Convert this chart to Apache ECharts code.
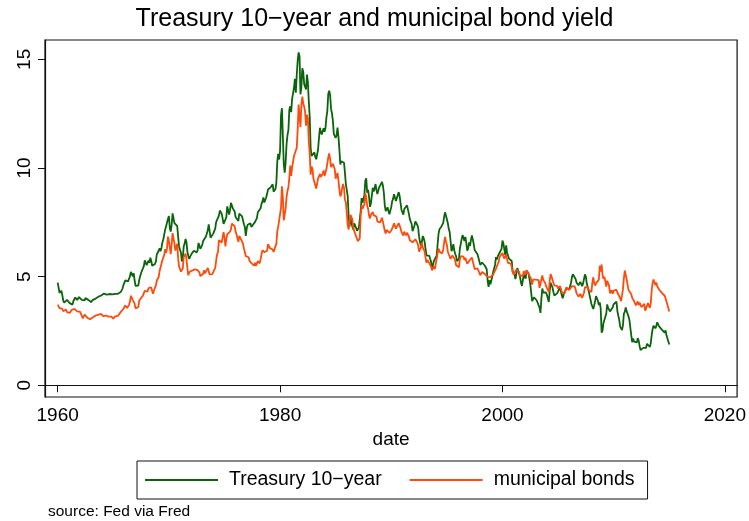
<!DOCTYPE html>
<html>
<head>
<meta charset="utf-8">
<script src="https://cdn.jsdelivr.net/npm/echarts@6/dist/echarts.min.js"></script>
<style>
  html, body { margin: 0; padding: 0; background: #fff; }
  #chart { width: 749px; height: 521px; }
</style>
</head>
<body>
<div id="chart"></div>
<script>
// monthly series, first value is Jan 1960, last is Jan 2015
const startYear = 1960;

// 10-year Treasury constant maturity, %
const treasury = [
  4.72, 4.49, 4.25, 4.28, 4.35, 4.15, 3.90, 3.80, 3.80, 3.89, 3.93, 3.84, // 1960
  3.84, 3.78, 3.74, 3.78, 3.71, 3.88, 3.92, 4.04, 3.98, 3.92, 3.94, 4.06,
  4.08, 4.04, 3.93, 3.84, 3.87, 3.91, 4.01, 3.98, 3.98, 3.93, 3.92, 3.86,
  3.83, 3.92, 3.93, 3.97, 3.93, 3.99, 4.02, 4.00, 4.08, 4.11, 4.12, 4.13,
  4.17, 4.15, 4.22, 4.23, 4.20, 4.17, 4.19, 4.19, 4.20, 4.19, 4.15, 4.18,
  4.19, 4.21, 4.21, 4.20, 4.21, 4.21, 4.20, 4.25, 4.29, 4.35, 4.45, 4.62, // 1965
  4.61, 4.83, 4.87, 4.75, 4.78, 4.81, 5.02, 5.22, 5.18, 5.01, 5.16, 4.84,
  4.58, 4.63, 4.54, 4.59, 4.85, 5.02, 5.16, 5.28, 5.30, 5.48, 5.75, 5.70,
  5.53, 5.56, 5.74, 5.64, 5.87, 5.72, 5.50, 5.42, 5.46, 5.58, 5.70, 6.03,
  6.04, 6.19, 6.30, 6.17, 6.32, 6.57, 6.72, 6.69, 7.16, 7.10, 7.14, 7.65,
  7.79, 7.24, 7.07, 7.39, 7.91, 7.84, 7.46, 7.53, 7.39, 7.33, 6.84, 6.39, // 1970
  6.24, 6.11, 5.70, 5.83, 6.39, 6.52, 6.73, 6.58, 6.14, 5.93, 5.81, 5.93,
  5.95, 6.08, 6.07, 6.19, 6.13, 6.11, 6.11, 6.21, 6.55, 6.48, 6.28, 6.36,
  6.46, 6.64, 6.71, 6.67, 6.85, 6.90, 7.13, 7.40, 7.09, 6.79, 6.73, 6.74,
  6.99, 6.96, 7.21, 7.51, 7.58, 7.54, 7.81, 8.04, 8.04, 7.90, 7.68, 7.43,
  7.50, 7.39, 7.73, 8.23, 8.06, 7.86, 8.06, 8.40, 8.43, 8.14, 8.05, 8.00, // 1975
  7.74, 7.79, 7.73, 7.56, 7.90, 7.86, 7.83, 7.77, 7.59, 7.41, 7.29, 6.87,
  7.21, 7.39, 7.46, 7.37, 7.46, 7.28, 7.33, 7.40, 7.34, 7.52, 7.58, 7.69,
  7.96, 8.03, 8.04, 8.15, 8.35, 8.46, 8.64, 8.41, 8.42, 8.64, 8.81, 9.01,
  9.10, 9.10, 9.12, 9.18, 9.25, 8.91, 8.95, 9.03, 9.33, 10.30, 10.65, 10.39,
  10.80, 12.41, 12.75, 11.47, 10.18, 9.78, 10.25, 11.10, 11.51, 11.75, 12.68, 12.84, // 1980
  12.57, 13.19, 13.12, 13.68, 14.10, 13.47, 14.28, 14.94, 15.32, 15.15, 13.39, 13.72,
  14.59, 14.43, 13.86, 13.87, 13.62, 14.30, 13.95, 13.06, 12.34, 10.91, 10.55, 10.54,
  10.46, 10.72, 10.51, 10.40, 10.38, 10.85, 11.38, 11.85, 11.65, 11.54, 11.69, 11.83,
  11.67, 11.84, 12.32, 12.63, 13.41, 13.56, 13.36, 12.72, 12.52, 12.16, 11.57, 11.50,
  11.38, 11.51, 11.86, 11.43, 10.85, 10.16, 10.31, 10.33, 10.37, 10.24, 9.78, 9.26, // 1985
  9.19, 8.70, 7.78, 7.30, 7.71, 7.80, 7.30, 7.17, 7.45, 7.43, 7.25, 7.11,
  7.08, 7.25, 7.25, 8.02, 8.61, 8.40, 8.45, 8.76, 9.42, 9.52, 8.86, 8.99,
  8.67, 8.21, 8.37, 8.72, 9.09, 8.92, 9.06, 9.26, 8.98, 8.80, 8.96, 9.11,
  9.09, 9.17, 9.36, 9.18, 8.86, 8.28, 8.02, 8.11, 8.19, 8.01, 7.87, 7.84,
  8.21, 8.47, 8.59, 8.79, 8.76, 8.48, 8.47, 8.75, 8.89, 8.72, 8.39, 8.08, // 1990
  8.09, 7.85, 8.11, 8.04, 8.07, 8.28, 8.27, 7.90, 7.65, 7.53, 7.42, 7.09,
  7.03, 7.34, 7.54, 7.48, 7.39, 7.26, 6.84, 6.59, 6.42, 6.59, 6.87, 6.77,
  6.60, 6.26, 5.98, 5.97, 6.04, 5.96, 5.81, 5.68, 5.36, 5.33, 5.72, 5.77,
  5.75, 5.97, 6.48, 6.97, 7.18, 7.10, 7.30, 7.24, 7.46, 7.74, 7.96, 7.81,
  7.78, 7.47, 7.20, 7.06, 6.63, 6.17, 6.28, 6.49, 6.20, 6.04, 5.93, 5.71, // 1995
  5.65, 5.81, 6.27, 6.51, 6.74, 6.91, 6.87, 6.64, 6.83, 6.53, 6.20, 6.30,
  6.58, 6.42, 6.69, 6.89, 6.71, 6.49, 6.22, 6.30, 6.21, 6.03, 5.88, 5.81,
  5.54, 5.57, 5.65, 5.64, 5.65, 5.50, 5.46, 5.34, 4.81, 4.53, 4.83, 4.65,
  4.72, 5.00, 5.23, 5.18, 5.54, 5.90, 5.79, 5.94, 5.92, 6.11, 6.03, 6.28,
  6.66, 6.52, 6.26, 5.99, 6.44, 6.10, 6.05, 5.83, 5.80, 5.74, 5.72, 5.24, // 2000
  5.16, 5.10, 4.89, 5.14, 5.39, 5.28, 5.24, 4.97, 4.73, 4.57, 4.65, 5.09,
  5.04, 4.91, 5.28, 5.21, 5.16, 4.93, 4.65, 4.26, 3.87, 3.94, 4.05, 4.03,
  4.05, 3.90, 3.81, 3.96, 3.57, 3.33, 3.98, 4.45, 4.27, 4.29, 4.30, 4.27,
  4.15, 4.08, 3.83, 4.35, 4.72, 4.73, 4.50, 4.28, 4.13, 4.10, 4.19, 4.23,
  4.22, 4.17, 4.50, 4.34, 4.14, 4.00, 4.18, 4.26, 4.20, 4.46, 4.54, 4.47, // 2005
  4.42, 4.57, 4.72, 4.99, 5.11, 5.11, 5.09, 4.88, 4.72, 4.73, 4.60, 4.56,
  4.76, 4.72, 4.56, 4.69, 4.75, 5.10, 5.00, 4.67, 4.52, 4.53, 4.15, 4.10,
  3.74, 3.74, 3.51, 3.68, 3.88, 4.10, 4.01, 3.89, 3.69, 3.81, 3.53, 2.42,
  2.52, 2.87, 2.82, 2.93, 3.29, 3.72, 3.56, 3.59, 3.40, 3.39, 3.40, 3.59,
  3.73, 3.69, 3.73, 3.85, 3.42, 3.20, 3.01, 2.70, 2.65, 2.54, 2.76, 3.29, // 2010
  3.39, 3.58, 3.41, 3.46, 3.17, 3.00, 3.00, 2.30, 1.98, 2.15, 2.01, 1.98,
  1.97, 1.97, 2.17, 2.05, 1.80, 1.62, 1.53, 1.68, 1.72, 1.75, 1.65, 1.72,
  1.91, 1.98, 1.96, 1.76, 1.93, 2.30, 2.58, 2.74, 2.81, 2.62, 2.72, 2.90,
  2.86, 2.71, 2.72, 2.71, 2.56, 2.60, 2.54, 2.42, 2.53, 2.30, 2.33, 2.21,
  1.88 // 2015
];

// state & local (municipal) bond yield, %
const municipal = [
  3.71, 3.62, 3.55, 3.54, 3.60, 3.52, 3.41, 3.36, 3.46, 3.49, 3.37, 3.45, // 1960
  3.42, 3.33, 3.37, 3.46, 3.38, 3.50, 3.52, 3.53, 3.46, 3.40, 3.37, 3.42,
  3.39, 3.30, 3.20, 3.08, 3.16, 3.25, 3.28, 3.23, 3.11, 3.03, 3.08, 3.04,
  3.07, 3.09, 3.13, 3.08, 3.14, 3.21, 3.20, 3.19, 3.25, 3.24, 3.26, 3.28,
  3.24, 3.18, 3.25, 3.27, 3.21, 3.17, 3.15, 3.16, 3.21, 3.23, 3.16, 3.12,
  3.06, 3.09, 3.17, 3.14, 3.14, 3.19, 3.25, 3.28, 3.37, 3.40, 3.43, 3.52, // 1965
  3.52, 3.67, 3.68, 3.56, 3.60, 3.70, 3.85, 4.12, 4.10, 3.93, 3.85, 3.76,
  3.54, 3.52, 3.55, 3.60, 3.89, 3.96, 4.02, 3.99, 4.12, 4.24, 4.34, 4.43,
  4.29, 4.31, 4.47, 4.38, 4.49, 4.50, 4.33, 4.21, 4.38, 4.49, 4.60, 4.82,
  4.85, 4.98, 5.26, 5.19, 5.33, 5.75, 5.75, 6.00, 6.26, 6.09, 6.30, 6.84,
  6.65, 6.36, 6.03, 6.49, 7.00, 6.96, 6.53, 6.20, 6.25, 6.51, 5.85, 5.46, // 1970
  5.36, 5.23, 5.17, 5.37, 5.90, 5.95, 6.06, 5.82, 5.37, 5.06, 5.20, 5.21,
  5.12, 5.28, 5.31, 5.37, 5.33, 5.27, 5.40, 5.30, 5.36, 5.19, 5.02, 5.05,
  5.05, 5.13, 5.29, 5.15, 5.15, 5.18, 5.40, 5.48, 5.10, 5.05, 5.18, 5.12,
  5.22, 5.20, 5.40, 5.73, 6.02, 6.13, 6.68, 6.71, 6.76, 6.57, 6.61, 7.05,
  6.82, 6.39, 6.74, 6.95, 6.97, 6.95, 7.07, 7.17, 7.44, 7.39, 7.43, 7.31, // 1975
  7.07, 6.94, 6.92, 6.60, 6.87, 6.87, 6.79, 6.61, 6.51, 6.30, 6.29, 5.94,
  5.87, 5.89, 5.89, 5.73, 5.75, 5.62, 5.63, 5.62, 5.51, 5.64, 5.49, 5.57,
  5.71, 5.62, 5.61, 5.80, 6.03, 6.22, 6.28, 6.12, 6.09, 6.13, 6.19, 6.50,
  6.47, 6.31, 6.33, 6.29, 6.25, 6.13, 6.13, 6.20, 6.52, 7.08, 7.30, 7.22,
  7.35, 8.16, 9.16, 8.63, 7.59, 7.63, 8.13, 8.67, 8.94, 9.11, 9.56, 10.11, // 1980
  9.64, 10.03, 10.12, 10.55, 10.60, 10.63, 10.93, 11.75, 12.92, 12.83, 11.89, 12.90,
  13.28, 12.97, 12.82, 12.59, 11.95, 12.45, 12.28, 11.23, 10.66, 9.69, 10.06, 9.96,
  9.50, 9.58, 9.20, 9.05, 9.11, 9.52, 9.53, 9.72, 9.58, 9.66, 9.74, 9.89,
  9.63, 9.64, 9.94, 9.96, 10.49, 10.67, 10.42, 10.04, 10.05, 10.19, 10.17, 9.95,
  9.51, 9.65, 9.77, 9.42, 9.01, 8.69, 8.81, 9.08, 9.27, 9.08, 8.54, 8.42, // 1985
  7.92, 7.37, 7.17, 7.15, 7.84, 7.89, 7.64, 7.22, 7.19, 7.13, 6.86, 6.85,
  6.63, 6.64, 6.76, 7.80, 8.30, 8.11, 8.15, 8.33, 8.83, 8.64, 8.26, 8.13,
  7.81, 7.67, 7.85, 7.94, 7.97, 7.83, 7.79, 7.88, 7.76, 7.53, 7.59, 7.52,
  7.50, 7.53, 7.71, 7.52, 7.31, 7.11, 6.98, 7.15, 7.24, 7.12, 7.01, 6.95,
  7.12, 7.21, 7.32, 7.45, 7.38, 7.21, 7.16, 7.30, 7.46, 7.45, 7.23, 7.06, // 1990
  7.05, 6.89, 7.07, 7.00, 6.90, 7.02, 6.95, 6.85, 6.67, 6.66, 6.75, 6.58,
  6.56, 6.67, 6.72, 6.67, 6.57, 6.43, 6.15, 6.21, 6.35, 6.58, 6.33, 6.26,
  6.16, 5.87, 5.64, 5.76, 5.73, 5.63, 5.57, 5.45, 5.29, 5.25, 5.47, 5.35,
  5.31, 5.40, 6.06, 6.29, 6.15, 6.11, 6.22, 6.07, 6.23, 6.55, 6.83, 6.63,
  6.46, 6.16, 6.03, 6.07, 5.82, 5.80, 5.97, 6.01, 5.85, 5.74, 5.52, 5.45, // 1995
  5.43, 5.43, 5.79, 5.94, 5.98, 6.02, 5.92, 5.76, 5.87, 5.72, 5.59, 5.64,
  5.72, 5.63, 5.76, 5.88, 5.70, 5.53, 5.35, 5.41, 5.39, 5.38, 5.33, 5.19,
  5.06, 5.10, 5.21, 5.23, 5.20, 5.12, 5.14, 5.10, 4.99, 4.93, 5.03, 4.98,
  5.01, 5.03, 5.10, 5.08, 5.18, 5.37, 5.36, 5.58, 5.69, 5.92, 5.86, 5.95,
  6.08, 6.00, 5.83, 5.80, 6.00, 5.80, 5.63, 5.55, 5.62, 5.60, 5.45, 5.21, // 2000
  5.10, 5.10, 5.02, 5.32, 5.40, 5.31, 5.21, 5.03, 5.09, 5.05, 5.04, 5.25,
  5.16, 5.11, 5.29, 5.21, 5.14, 5.06, 4.98, 4.86, 4.63, 4.86, 4.95, 4.83,
  4.86, 4.77, 4.84, 4.84, 4.48, 4.40, 4.86, 5.06, 4.85, 4.87, 4.72, 4.57,
  4.63, 4.49, 4.29, 4.82, 5.12, 5.00, 4.95, 4.71, 4.59, 4.52, 4.68, 4.57,
  4.46, 4.45, 4.57, 4.45, 4.28, 4.21, 4.25, 4.24, 4.27, 4.51, 4.56, 4.47, // 2005
  4.38, 4.34, 4.43, 4.56, 4.57, 4.58, 4.55, 4.40, 4.23, 4.24, 4.08, 4.14,
  4.20, 4.16, 4.02, 4.11, 4.26, 4.52, 4.53, 4.55, 4.51, 4.39, 4.43, 4.42,
  4.29, 4.72, 4.97, 4.71, 4.59, 4.69, 4.68, 4.69, 4.86, 5.50, 5.23, 5.56,
  5.07, 4.90, 5.00, 4.78, 4.54, 4.81, 4.72, 4.60, 4.24, 4.26, 4.37, 4.21,
  4.36, 4.36, 4.40, 4.40, 4.27, 4.30, 4.30, 4.01, 3.87, 3.87, 4.40, 4.92, // 2010
  5.28, 5.08, 4.87, 4.83, 4.39, 4.46, 4.43, 4.19, 4.02, 4.01, 3.87, 3.90,
  3.68, 3.68, 3.86, 3.69, 3.80, 3.73, 3.60, 3.59, 3.69, 3.75, 3.43, 3.53,
  3.59, 3.78, 3.75, 3.56, 3.77, 4.35, 4.70, 4.87, 4.74, 4.60, 4.73, 4.56,
  4.48, 4.41, 4.35, 4.33, 4.25, 4.25, 4.22, 4.12, 3.99, 3.86, 3.70, 3.62,
  3.40 // 2015
];

const yearTicks = [1960, 1980, 2000, 2020];
const yieldTicks = [0, 5, 10, 15];

const FONT = "'Liberation Sans', Arial, sans-serif";

function toPoints(values) {
  return values.map((v, i) => [startYear + i / 12, v]);
}

const chart = echarts.init(document.getElementById('chart'), null, { renderer: 'canvas' });

chart.setOption({
  animation: false,
  backgroundColor: '#fff',
  textStyle: { fontFamily: FONT, color: '#000' },
  title: {
    text: 'Treasury 10\u2212year and municipal bond yield',
    left: 'center',
    top: 2,
    textStyle: { fontFamily: FONT, fontSize: 25, fontWeight: 'normal', color: '#000' }
  },
  grid: {
    left: 45, right: 11, top: 40, bottom: 124,
    show: true, borderColor: '#111', borderWidth: 1.2, backgroundColor: '#fff'
  },
  xAxis: {
    type: 'value',
    min: 1958.86,
    max: 2021.1,
    name: 'date',
    nameLocation: 'middle',
    nameGap: 30,
    nameTextStyle: { fontFamily: FONT, fontSize: 19, color: '#000' },
    splitLine: { show: false },
    axisLine: { lineStyle: { color: '#111', width: 1.2 } },
    axisTick: { length: 7, lineStyle: { color: '#111', width: 1 }, customValues: yearTicks },
    axisLabel: {
      fontFamily: FONT, fontSize: 19, color: '#000', margin: 9,
      customValues: yearTicks, formatter: (v) => String(v)
    }
  },
  yAxis: {
    type: 'value',
    min: -0.54,
    max: 15.89,
    splitLine: { show: false },
    axisLine: { show: true, lineStyle: { color: '#111', width: 1.2 } },
    axisTick: { show: true, length: 7, lineStyle: { color: '#111', width: 1 }, customValues: yieldTicks },
    axisLabel: {
      fontFamily: FONT, fontSize: 19, color: '#000', rotate: 90, margin: 11,
      customValues: yieldTicks, formatter: (v) => String(v)
    }
  },
  legend: {
    left: 137,
    top: 461,
    padding: [9, 13, 9, 8],
    borderColor: '#111',
    borderWidth: 1,
    backgroundColor: '#fff',
    itemGap: 28,
    itemWidth: 73,
    itemHeight: 2,
    icon: 'rect',
    textStyle: { fontFamily: FONT, fontSize: 19.5, color: '#000', padding: [0, 0, 0, 6] },
    data: ['Treasury 10\u2212year', 'municipal bonds']
  },
  graphic: [{
    type: 'text',
    left: 48,
    top: 504,
    style: { text: 'source: Fed via Fred', fontFamily: FONT, fontSize: 15.5, fill: '#000' }
  }],
  series: [
    {
      name: 'Treasury 10\u2212year',
      type: 'line',
      data: toPoints(treasury),
      showSymbol: false,
      lineStyle: { color: '#0a640a', width: 1.8 },
      itemStyle: { color: '#0a640a' }
    },
    {
      name: 'municipal bonds',
      type: 'line',
      data: toPoints(municipal),
      showSymbol: false,
      lineStyle: { color: '#ff4a0a', width: 1.8 },
      itemStyle: { color: '#ff4a0a' }
    }
  ]
});
</script>
</body>
</html>
